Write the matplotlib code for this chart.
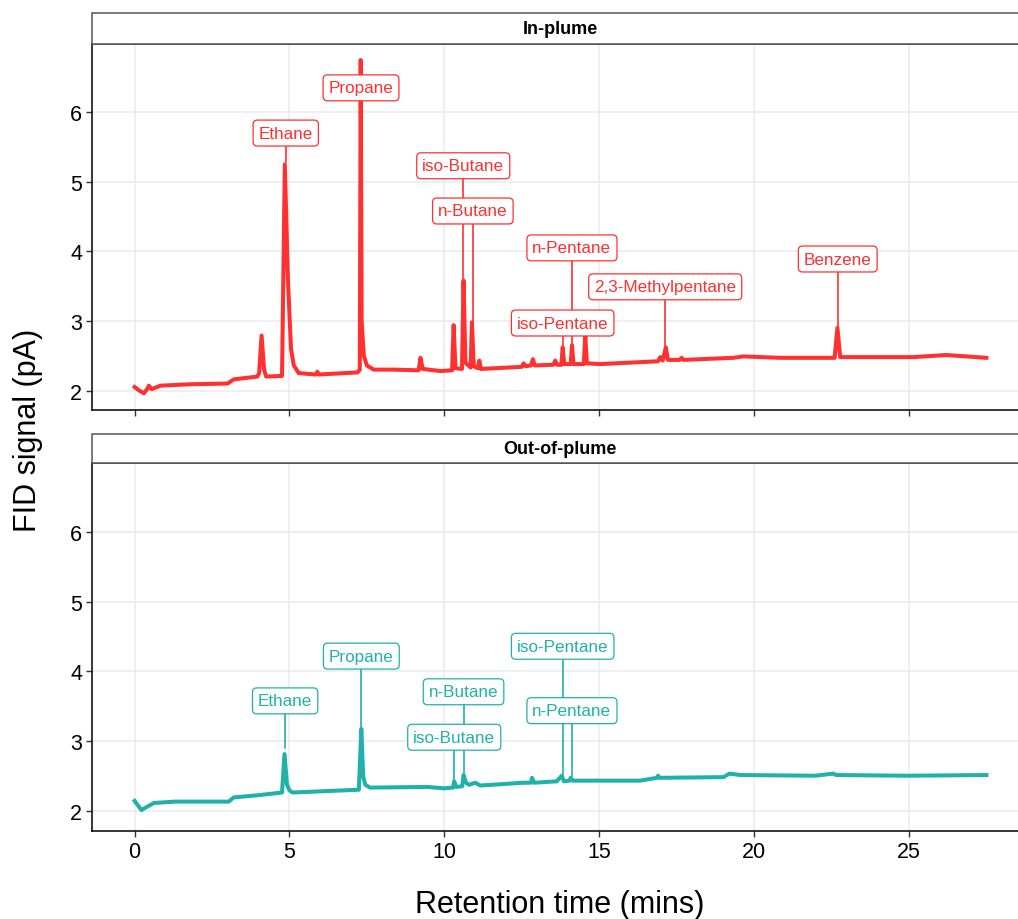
import matplotlib
matplotlib.use("Agg")
import matplotlib.pyplot as plt
from matplotlib.patches import Rectangle

plt.rcParams['font.family'] = ['Liberation Sans', 'DejaVu Sans']

# ---------------- data ----------------
panels = ["In-plume", "Out-of-plume"]
colors = ["#FF3030", "#20B2AA"]

in_time = [0.0, 0.15, 0.3, 0.42, 0.46, 0.55, 0.84, 1.8, 3.0, 3.2, 3.96, 4.02, 4.1, 4.18, 4.25,
           4.76, 4.85, 4.95, 5.05, 5.14, 5.3, 5.85, 5.9, 5.95, 7.2, 7.27, 7.3, 7.33, 7.4, 7.5,
           7.72, 8.4, 9.17, 9.23, 9.3, 9.87, 10.25, 10.3, 10.36, 10.57, 10.62, 10.68, 10.85,
           10.89, 10.95, 11.08, 11.13, 11.18, 12.5, 12.56, 12.62, 12.8, 12.86, 12.92, 13.52,
           13.58, 13.64, 13.78, 13.82, 13.87, 14.08, 14.12, 14.17, 14.5, 14.55, 14.6, 15.03,
           16.9, 16.97, 17.05, 17.15, 17.22, 17.6, 17.66, 17.72, 19.33, 19.65, 20.84, 22.6,
           22.69, 22.78, 25.14, 26.2, 27.5]
in_signal = [2.05, 2.0, 1.96, 2.03, 2.07, 2.02, 2.07, 2.09, 2.10, 2.16, 2.20, 2.25, 2.79, 2.3, 2.2,
             2.21, 5.25, 3.6, 2.6, 2.36, 2.25, 2.23, 2.27, 2.23, 2.26, 2.3, 6.75, 3.0, 2.5, 2.36,
             2.3, 2.3, 2.29, 2.47, 2.31, 2.28, 2.29, 2.94, 2.32, 2.31, 3.58, 2.4, 2.33,
             2.98, 2.35, 2.32, 2.43, 2.31, 2.34, 2.39, 2.35, 2.36, 2.45, 2.36, 2.37,
             2.43, 2.37, 2.37, 2.62, 2.38, 2.38, 2.65, 2.38, 2.38, 2.79, 2.39, 2.38,
             2.42, 2.48, 2.43, 2.62, 2.44, 2.44, 2.47, 2.44, 2.47, 2.49, 2.47, 2.47,
             2.90, 2.48, 2.48, 2.51, 2.47]

out_time = [0.0, 0.22, 0.62, 1.3, 3.04, 3.2, 3.96, 4.76, 4.84, 4.92, 5.0, 5.1, 7.24, 7.32, 7.38,
            7.45, 7.6, 9.44, 9.98, 10.28, 10.32, 10.38, 10.58, 10.62, 10.7, 10.8, 11.0, 11.16,
            12.56, 12.8, 12.83, 12.9, 13.63, 13.79, 13.86, 14.04, 14.08, 14.14, 16.32, 16.86,
            16.9, 16.95, 19.01, 19.2, 19.55, 21.97, 22.56, 22.65, 24.92, 27.5]
out_signal = [2.15, 2.02, 2.12, 2.14, 2.14, 2.2, 2.23, 2.27, 2.82, 2.38, 2.3, 2.27, 2.31, 3.18, 2.5,
              2.38, 2.34, 2.35, 2.33, 2.34, 2.43, 2.35, 2.36, 2.52, 2.41, 2.38, 2.41, 2.37,
              2.41, 2.41, 2.48, 2.41, 2.43, 2.51, 2.43, 2.44, 2.48, 2.44, 2.44, 2.48,
              2.51, 2.48, 2.49, 2.54, 2.52, 2.51, 2.54, 2.52, 2.51, 2.52]

in_labels = ["Ethane", "Propane", "iso-Butane", "n-Butane", "n-Pentane", "iso-Pentane",
             "2,3-Methylpentane", "Benzene"]
in_label_t = [4.88, 7.31, 10.61, 10.92, 14.12, 13.82, 17.13, 22.7]
in_label_y = [5.70, 6.35, 5.23, 4.58, 4.05, 2.97, 3.49, 3.89]
in_peak_t = [4.88, 7.31, 10.61, 10.92, 14.12, 13.82, 17.13, 22.7]
in_peak_y = [5.28, 6.0, 3.62, 3.0, 2.67, 2.64, 2.64, 2.92]

out_labels = ["Ethane", "Propane", "n-Butane", "iso-Butane", "iso-Pentane", "n-Pentane"]
out_label_t = [4.86, 7.32, 10.62, 10.32, 13.82, 14.12]
out_label_y = [3.58, 4.22, 3.71, 3.06, 4.36, 3.44]
out_peak_t = [4.86, 7.32, 10.62, 10.32, 13.82, 14.12]
out_peak_y = [2.9, 3.2, 2.55, 2.46, 2.54, 2.5]

x_ticks = [0, 5, 10, 15, 20, 25]
y_ticks = [2, 3, 4, 5, 6]

# ---------------- figure ----------------
W, H = 1018, 920
fig = plt.figure(figsize=(W / 100, H / 100), dpi=100)

def fx(px):
    return px / W

def fy(py):
    return 1 - py / H

left = fx(92)
width = (1029 - 92) / W
panel_px = [(45, 411, 14), (464, 832, 435)]  # (top, bottom, strip top)

series = [(in_time, in_signal, in_labels, in_label_t, in_label_y, in_peak_t, in_peak_y),
          (out_time, out_signal, out_labels, out_label_t, out_label_y, out_peak_t, out_peak_y)]

for i, (top, bot, stop) in enumerate(panel_px):
    ax = fig.add_axes([left, fy(bot), width, (bot - top) / H])
    t, s, labs, lt, ly, pt, py_ = series[i]
    col = colors[i]
    ax.plot(t, s, color=col, lw=2.9, solid_joinstyle='round', zorder=3)
    for name, a, b, c, d in zip(labs, lt, ly, pt, py_):
        ax.plot([a, c], [b, d], color=col, lw=1.2, zorder=2.5)
        ax.text(a, b, name, color=col, fontsize=12.3, ha='center', va='center', zorder=5,
                bbox=dict(boxstyle='round,pad=0.32,rounding_size=0.25', fc='white',
                          ec=col, lw=0.9, alpha=1))
    ax.set_xlim(-1.375, 28.875)
    ax.set_ylim(1.72, 6.98)
    ax.set_xticks(x_ticks)
    ax.set_yticks(y_ticks)
    ax.grid(True, color='#EBEBEB', lw=1.1, zorder=0)
    ax.set_axisbelow(True)
    ax.spines['right'].set_visible(False)
    ax.spines['top'].set_color('#333333')
    ax.spines['top'].set_linewidth(1.1)
    for sp in ['left', 'bottom']:
        ax.spines[sp].set_color('black')
        ax.spines[sp].set_linewidth(1.1)
    ax.tick_params(axis='both', length=4, width=1, color='#333333', labelsize=15.5,
                   labelcolor='black', pad=3)
    if i == 0:
        ax.tick_params(axis='x', labelbottom=False)
    # strip
    sax = fig.add_axes([left, fy(top), width, (top - stop) / H])
    sax.set_xlim(0, 1)
    sax.set_ylim(0, 1)
    sax.axis('off')
    sax.add_patch(Rectangle((0, 0), 1, 1, transform=sax.transAxes, fc='white',
                            ec='#555555', lw=1.1, clip_on=False))
    sax.text((560 - 92) / (1029 - 92), 0.5, panels[i], fontsize=13, fontweight='bold',
             ha='center', va='center', transform=sax.transAxes)

fig.text(fx(28), fy(430), "FID signal (pA)", rotation=90, fontsize=22,
         ha='center', va='center')
fig.text(fx(560), fy(905), "Retention time (mins)", fontsize=22, ha='center', va='center')

fig.savefig("out.png", dpi=100)
